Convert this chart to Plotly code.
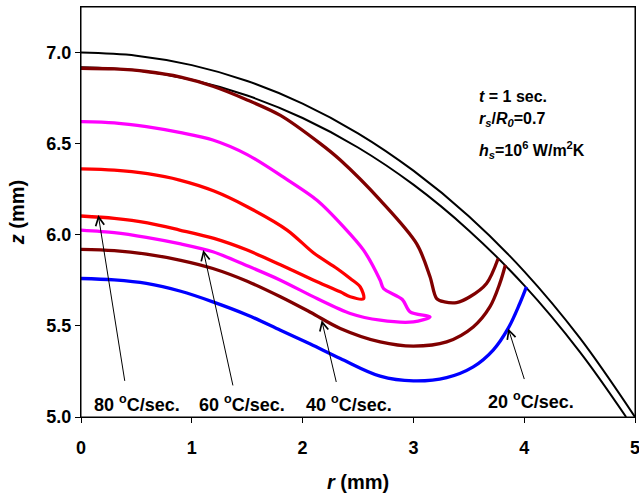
import plotly.graph_objects as go

# ---- data (r in mm, z in mm) ----
outer_r = [0, 0.5, 1, 1.5, 2, 2.5, 3, 3.5, 4, 4.5, 5]
outer_z = [7.0, 6.983, 6.931, 6.844, 6.72, 6.557, 6.352, 6.102, 5.799, 5.435, 5.0]

inner_r = [0, 0.5, 1, 1.5, 2, 2.5, 3, 3.5, 4, 4.5, 4.92]
inner_z = [6.92, 6.903, 6.851, 6.764, 6.641, 6.479, 6.275, 6.024, 5.722, 5.359, 5.0]

maroon_top_r = [0, 0.3, 0.59, 0.9, 1.19, 1.5, 1.8, 2.16, 2.34, 2.7, 3.03, 3.15, 3.21, 3.28, 3.39, 3.51, 3.66, 3.765]
maroon_top_z = [6.914, 6.91, 6.896, 6.865, 6.815, 6.74, 6.655, 6.50, 6.41, 6.19, 5.95, 5.77, 5.65, 5.632, 5.628, 5.66, 5.733, 5.87]

maroon_low_r = [0, 0.3, 0.59, 0.9, 1.19, 1.5, 1.8, 2.07, 2.34, 2.7, 3.0, 3.3, 3.54, 3.69, 3.78, 3.83]
maroon_low_z = [5.92, 5.913, 5.894, 5.86, 5.815, 5.745, 5.66, 5.575, 5.486, 5.412, 5.389, 5.412, 5.494, 5.604, 5.733, 5.834]

magenta_r = [0, 0.3, 0.59, 0.9, 1.19, 1.5, 1.82, 2.13, 2.37, 2.55, 2.7, 2.73, 2.9, 2.97, 3.15,
             3.0, 2.7, 2.43, 2.13, 1.8, 1.5, 1.19, 0.9, 0.59, 0.3, 0]
magenta_z = [6.621, 6.614, 6.593, 6.56, 6.52, 6.44, 6.319, 6.19, 6.044, 5.916, 5.75, 5.705, 5.645, 5.577, 5.549,
             5.522, 5.531, 5.568, 5.65, 5.751, 5.83, 5.907, 5.95, 5.986, 6.012, 6.026]

red_r = [0, 0.3, 0.6, 0.89, 1.2, 1.5, 1.86, 2.1, 2.31, 2.43, 2.52, 2.55,
         2.43, 2.34, 2.1, 1.8, 1.5, 1.2, 0.89, 0.6, 0.3, 0]
red_z = [6.362, 6.355, 6.335, 6.30, 6.24, 6.154, 6.026, 5.90, 5.815, 5.76, 5.714, 5.65,
         5.66, 5.687, 5.751, 5.835, 5.916, 5.98, 6.026, 6.065, 6.09, 6.103]

blue_r = [0, 0.3, 0.59, 0.9, 1.19, 1.5, 1.8, 2.07, 2.34, 2.7, 3.0, 3.3, 3.54, 3.72, 3.855, 3.96, 4.02]
blue_z = [5.76, 5.752, 5.733, 5.69, 5.632, 5.56, 5.476, 5.40, 5.321, 5.224, 5.198, 5.216, 5.275, 5.367, 5.486, 5.623, 5.714]

# labels: (text, arrow tip, arrow tail, label centre)
label_text = ["80 <sup>o</sup>C/sec.", "60 <sup>o</sup>C/sec.", "40 <sup>o</sup>C/sec.", "20 <sup>o</sup>C/sec."]
tip_r = [0.156, 1.103, 2.172, 3.856]
tip_z = [6.108, 5.916, 5.531, 5.486]
tail_r = [0.397, 1.374, 2.307, 4.005]
tail_z = [5.19, 5.165, 5.184, 5.20]
label_r = [0.505, 1.452, 2.42, 4.06]
label_z = [5.075, 5.075, 5.075, 5.09]

info_lines = ["<i>t</i> = 1 sec.",
              "<i>r<sub>s</sub></i>/<i>R<sub>0</sub></i>=0.7",
              "<i>h<sub>s</sub></i>=10<sup>6</sup> W/m<sup>2</sup>K"]
info_r = 3.57
info_z = [6.758, 6.63, 6.465]

FONT = "Liberation Sans, Arial, sans-serif"

fig = go.Figure()

def add_line(x, y, color, width, smooth=1.0):
    fig.add_trace(go.Scatter(x=x, y=y, mode="lines",
                             line=dict(color=color, width=width, shape="spline", smoothing=smooth),
                             hoverinfo="skip", showlegend=False))

add_line(outer_r, outer_z, "black", 2)
add_line(inner_r, inner_z, "black", 2)
add_line(maroon_top_r, maroon_top_z, "#800000", 3.3, 0.9)
add_line(maroon_low_r, maroon_low_z, "#800000", 3.3)
add_line(magenta_r, magenta_z, "#FF00FF", 3.3, 0.8)
add_line(red_r, red_z, "#FF0000", 3.3, 0.9)
add_line(blue_r, blue_z, "#0000FF", 3.3)

annotations = []
for i in range(len(label_text)):
    annotations.append(dict(x=tip_r[i], y=tip_z[i], ax=tail_r[i], ay=tail_z[i],
                            xref="x", yref="y", axref="x", ayref="y",
                            text="", showarrow=True, arrowhead=5, arrowsize=1.7,
                            arrowwidth=1, arrowcolor="black", standoff=0))
    annotations.append(dict(x=label_r[i], y=label_z[i], xref="x", yref="y",
                            text=label_text[i], showarrow=False,
                            xanchor="center", yanchor="middle",
                            font=dict(family=FONT, size=18, color="black", weight="bold")))
for i, t in enumerate(info_lines):
    annotations.append(dict(x=info_r, y=info_z[i], xref="x", yref="y", text=t,
                            showarrow=False, xanchor="left", yanchor="middle",
                            font=dict(family=FONT, size=16, color="black", weight="bold")))

fig.update_layout(
    width=639, height=499,
    margin=dict(l=81, r=4, t=7, b=82, autoexpand=False),
    paper_bgcolor="white", plot_bgcolor="white",
    font=dict(family=FONT, color="black"),
    annotations=annotations,
    shapes=[dict(type="rect", xref="paper", yref="paper", x0=0, y0=0, x1=1, y1=1,
                 line=dict(color="black", width=1), layer="above")],
    xaxis=dict(range=[0, 5], tickvals=[0, 1, 2, 3, 4, 5], ticks="outside", ticklen=5,
               tickwidth=1, tickcolor="black", showline=True, linecolor="black", linewidth=1,
               mirror=True, showgrid=False, zeroline=False, ticklabelstandoff=9,
               ticklabeloverflow="allow", automargin=False,
               tickfont=dict(family=FONT, size=18, color="black", weight="bold"),
               title=dict(text="<i>r</i> (mm)", standoff=18,
                          font=dict(family=FONT, size=20, color="black", weight="bold"))),
    yaxis=dict(range=[5.0, 7.25], tickvals=[5.0, 5.5, 6.0, 6.5, 7.0], tickformat=".1f",
               ticks="outside", ticklen=5, tickwidth=1, tickcolor="black",
               showline=True, linecolor="black", linewidth=1, mirror=True,
               showgrid=False, zeroline=False, ticklabeloverflow="allow", automargin=False,
               tickfont=dict(family=FONT, size=18, color="black", weight="bold"),
               title=dict(text="<i>z</i> (mm)", standoff=16,
                          font=dict(family=FONT, size=20, color="black", weight="bold"))),
)

fig.write_html("out.html", config={"displayModeBar": False},
               post_script="document.body.style.margin='0';document.body.style.overflow='hidden';")
